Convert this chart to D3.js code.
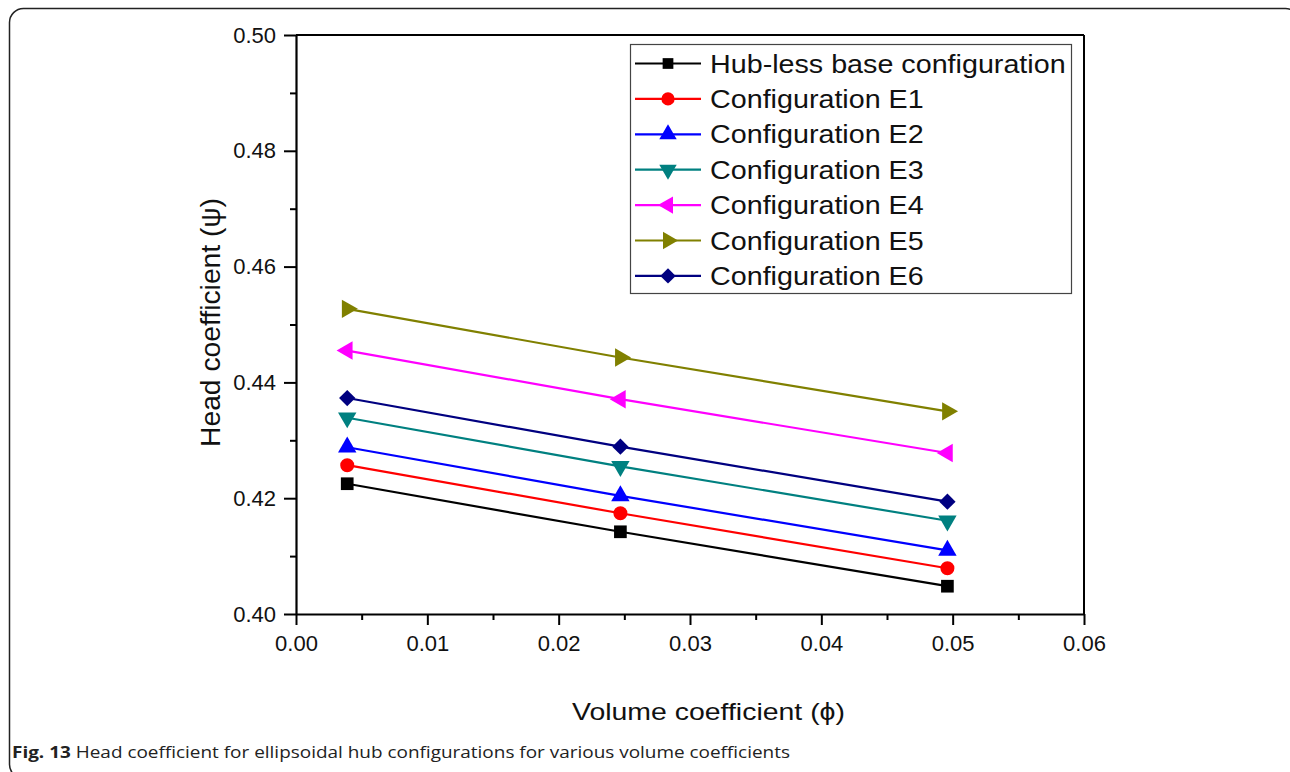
<!DOCTYPE html>
<html><head><meta charset="utf-8">
<script src="https://cdn.jsdelivr.net/npm/d3@7"></script>
<style>
html,body{margin:0;padding:0;background:#fff;}
svg{display:block;}
text{font-family:"Liberation Sans",Arial,sans-serif;fill:#111;}
</style></head><body>
<svg id="chart" width="1290" height="772"></svg>
<script>
const xValues = [0.0039, 0.0247, 0.0496];
const seriesNames = ["Hub-less base configuration","Configuration E1","Configuration E2","Configuration E3","Configuration E4","Configuration E5","Configuration E6"];
const baseVals = [0.4225, 0.4142, 0.4048];
const e1Vals = [0.4257, 0.4174, 0.4079];
const e2Vals = [0.4288, 0.4204, 0.4110];
const e3Vals = [0.4339, 0.4255, 0.4161];
const e4Vals = [0.4455, 0.4371, 0.4278];
const e5Vals = [0.4527, 0.4443, 0.4350];
const e6Vals = [0.4373, 0.4289, 0.4194];
const seriesColors = ["#000000","#ff0000","#0000ff","#008080","#ff00ff","#808000","#000080"];
const xTicks = [0, 0.01, 0.02, 0.03, 0.04, 0.05, 0.06];
const yTicks = [0.40, 0.42, 0.44, 0.46, 0.48, 0.50];
const xTitle = "Volume coefficient (\u03d5)";
const yTitle = "Head coefficient (\u03c8)";
const captionBold = "Fig. 13";
const captionText = " Head coefficient for ellipsoidal hub configurations for various volume coefficients";

const seriesVals = [baseVals, e1Vals, e2Vals, e3Vals, e4Vals, e5Vals, e6Vals];
const svg = d3.select("#chart");

// outer rounded frame
svg.append("rect").attr("x",9.5).attr("y",8.5).attr("width",1290).attr("height",770)
  .attr("rx",14).attr("fill","none").attr("stroke","#222").attr("stroke-width",1.5);

const L=296, R=1084, T=35, B=614;
const x = d3.scaleLinear().domain([0,0.06]).range([L,R]);
const y = d3.scaleLinear().domain([0.40,0.50]).range([B,T]);

// frame top/right
svg.append("line").attr("x1",L).attr("x2",R).attr("y1",T).attr("y2",T).attr("stroke","#000").attr("stroke-width",2);
svg.append("line").attr("x1",R).attr("x2",R).attr("y1",T).attr("y2",B).attr("stroke","#000").attr("stroke-width",2);

// minor ticks
const xMinor = d3.range(0.005,0.06,0.01);
const yMinor = d3.range(0.41,0.50,0.02);
svg.append("g").attr("transform",`translate(0,${B})`)
  .call(d3.axisBottom(x).tickValues(xMinor).tickSize(6).tickFormat(""))
  .call(g=>g.select(".domain").remove())
  .selectAll("line").attr("stroke","#000").attr("stroke-width",2);
svg.append("g").attr("transform",`translate(${L},0)`)
  .call(d3.axisLeft(y).tickValues(yMinor).tickSize(6).tickFormat(""))
  .call(g=>g.select(".domain").remove())
  .selectAll("line").attr("stroke","#000").attr("stroke-width",2);

// major axes
const gx = svg.append("g").attr("transform",`translate(0,${B})`)
  .call(d3.axisBottom(x).tickValues(xTicks).tickSize(11).tickSizeOuter(0).tickPadding(10).tickFormat(d3.format(".2f")));
const gy = svg.append("g").attr("transform",`translate(${L},0)`)
  .call(d3.axisLeft(y).tickValues(yTicks).tickSize(12).tickSizeOuter(0).tickPadding(8).tickFormat(d3.format(".2f")));
[gx,gy].forEach(g=>{
  g.select(".domain").attr("stroke","#000").attr("stroke-width",2.2);
  g.selectAll(".tick line").attr("stroke","#000").attr("stroke-width",2);
  g.selectAll(".tick text").attr("font-size",22).attr("fill","#111");
});

// symbols
function sym(i, size){
  const sq = d3.symbol().type(d3.symbolSquare);
  const ci = d3.symbol().type(d3.symbolCircle);
  const tr = d3.symbol().type(d3.symbolTriangle);
  switch(i){
    case 0: return {d: sq.size(size*1.15)(), rot:0};
    case 1: return {d: ci.size(size*1.1)(), rot:0};
    case 2: return {d: tr.size(size*1.05)(), rot:0};
    case 3: return {d: tr.size(size*1.05)(), rot:180};
    case 4: return {d: tr.size(size*1.05)(), rot:-90};
    case 5: return {d: tr.size(size*1.05)(), rot:90};
    case 6: return {d: sq.size(size*0.95)(), rot:45};
  }
}

const line = d3.line().x((d,i)=>x(xValues[i])).y(d=>y(d));
seriesVals.forEach((vals,i)=>{
  const g = svg.append("g");
  g.append("path").attr("d",line(vals)).attr("fill","none").attr("stroke",seriesColors[i]).attr("stroke-width",2.2);
  const s = sym(i,140);
  g.selectAll("path.m").data(vals).join("path").attr("class","m")
    .attr("d",s.d).attr("fill",seriesColors[i])
    .attr("transform",(d,j)=>`translate(${x(xValues[j])},${y(d)}) rotate(${s.rot})`);
});

// legend
const lg = svg.append("g");
lg.append("rect").attr("x",630.5).attr("y",44.5).attr("width",441).attr("height",249)
  .attr("fill","#fff").attr("stroke","#444").attr("stroke-width",1.2);
seriesNames.forEach((n,i)=>{
  const cy = 63.5 + i*35.4;
  lg.append("line").attr("x1",635).attr("x2",701).attr("y1",cy).attr("y2",cy).attr("stroke",seriesColors[i]).attr("stroke-width",2.2);
  const s = sym(i, i===0?100:125);
  lg.append("path").attr("d",s.d).attr("fill",seriesColors[i]).attr("transform",`translate(668,${cy}) rotate(${s.rot})`);
  const t = lg.append("text").attr("x",710).attr("y",cy).attr("dy","0.36em").attr("font-size",25.5).text(n);
  const w = t.node().getComputedTextLength();
  t.attr("textLength", w*1.125).attr("lengthAdjust","spacingAndGlyphs");
});

// axis titles
svg.append("text").attr("x",708.5).attr("y",720).attr("text-anchor","middle").attr("font-size",24)
  .attr("textLength",273).attr("lengthAdjust","spacingAndGlyphs").text(xTitle);
svg.append("text").attr("transform","translate(220,322.5) rotate(-90)").attr("text-anchor","middle").attr("font-size",27.5)
  .attr("textLength",249).attr("lengthAdjust","spacingAndGlyphs").text(yTitle);

// caption
const cap = svg.append("text").attr("x",12).attr("y",758).attr("font-size",16.5)
  .attr("textLength",778).attr("lengthAdjust","spacingAndGlyphs").style("fill","#222").style("font-family","Open Sans, sans-serif");
cap.append("tspan").attr("font-weight","bold").text(captionBold);
cap.append("tspan").text(captionText);
</script>
</body></html>
